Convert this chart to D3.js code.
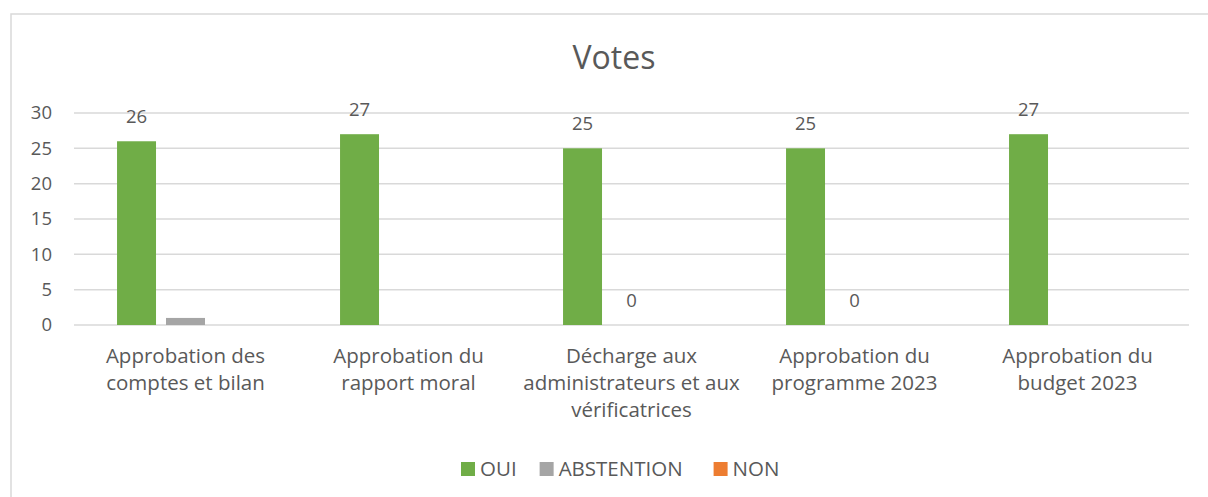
<!DOCTYPE html>
<html>
<head>
<meta charset="utf-8">
<style>
  body { margin: 0; background: #fff; }
  svg text { font-family: "Open Sans", sans-serif; fill: #595959; }
</style>
</head>
<body>
<script src="https://d3js.org/d3.v7.min.js"></script>
<script>
const categories = [
  ["Approbation des", "comptes et bilan"],
  ["Approbation du", "rapport moral"],
  ["Décharge aux", "administrateurs et aux", "vérificatrices"],
  ["Approbation du", "programme 2023"],
  ["Approbation du", "budget 2023"]
]
const seriesNames = ["OUI", "ABSTENTION", "NON"]
const oui = [26, 27, 25, 25, 27]
const abstention = [1, null, 0, 0, null]
const non = [null, null, null, null, null]
// which values carry a data label in the original
const ouiLabels = [true, true, true, true, true]
const abstentionLabels = [false, false, true, true, false]
const nonLabels = [false, false, false, false, false]
const yTicks = [0, 5, 10, 15, 20, 25, 30]
const colors = ["#70AD47", "#A5A5A5", "#ED7D31"]

const w = 1208
const h = 497
const plotLeft = 74, plotRight = 1189, plotTop = 113, plotBottom = 325

const svg = d3.select('body').append('svg')
  .attr('width', w)
  .attr('height', h)

// chart frame
svg.append('rect')
  .attr('x', 11).attr('y', 14)
  .attr('width', w + 20).attr('height', h + 20)
  .attr('fill', 'none')
  .attr('stroke', '#d9d9d9')
  .attr('stroke-width', 1.5)

svg.append('text')
  .attr('x', 614).attr('y', 69)
  .attr('text-anchor', 'middle')
  .style('font-size', '32px')
  .text('Votes')

const y = d3.scaleLinear().domain([0, 30]).range([plotBottom, plotTop])
const x0 = d3.scaleBand()
  .domain(d3.range(categories.length))
  .range([plotLeft, plotRight])
  .paddingInner(0.386).paddingOuter(0.193)
const x1 = d3.scaleBand()
  .domain(seriesNames)
  .range([0, x0.bandwidth()])
  .paddingInner(0.204)

// gridlines
svg.append('g').selectAll('line')
  .data(yTicks)
  .join('line')
  .attr('x1', plotLeft).attr('x2', plotRight)
  .attr('y1', d => y(d)).attr('y2', d => y(d))
  .attr('stroke', '#d9d9d9')
  .attr('stroke-width', 1.5)

const yAxis = svg.append('g')
  .attr('transform', 'translate(' + (plotLeft - 22) + ',0)')
  .call(d3.axisLeft(y).tickValues(yTicks).tickSize(0).tickPadding(0))
yAxis.select('.domain').remove()
yAxis.selectAll('text')
  .style('font-size', '18.5px')
  .style('font-family', '"Open Sans", sans-serif')
  .attr('fill', '#595959')

const values = [oui, abstention, non]
const labelFlags = [ouiLabels, abstentionLabels, nonLabels]
const rows = []
seriesNames.forEach((s, si) => {
  values[si].forEach((v, ci) => {
    rows.push({ s: s, si: si, ci: ci, v: v, label: labelFlags[si][ci] })
  })
})

svg.append('g').selectAll('rect')
  .data(rows.filter(d => d.v != null && d.v > 0))
  .join('rect')
  .attr('x', d => x0(d.ci) + x1(d.s))
  .attr('y', d => y(d.v))
  .attr('width', x1.bandwidth())
  .attr('height', d => y(0) - y(d.v))
  .attr('fill', d => colors[d.si])

svg.append('g').selectAll('text')
  .data(rows.filter(d => d.v != null && d.label))
  .join('text')
  .attr('x', d => x0(d.ci) + x1(d.s) + x1.bandwidth() / 2)
  .attr('y', d => y(d.v) - 18)
  .attr('text-anchor', 'middle')
  .style('font-size', '18.5px')
  .text(d => d.v)

// category labels
const cat = svg.append('g').selectAll('text')
  .data(categories)
  .join('text')
  .attr('x', (d, i) => x0(i) + x0.bandwidth() / 2)
  .attr('y', 363)
  .attr('text-anchor', 'middle')
  .style('font-size', '20.5px')
cat.selectAll('tspan')
  .data(d => d)
  .join('tspan')
  .attr('x', function () { return this.parentNode.getAttribute('x') })
  .attr('dy', (d, i) => i === 0 ? 0 : 27)
  .text(d => d)

// legend
const gaps = [0, 23, 31]
let lx = 461
seriesNames.forEach((s, i) => {
  lx += gaps[i]
  svg.append('rect')
    .attr('x', lx).attr('y', 462)
    .attr('width', 14).attr('height', 14)
    .attr('fill', colors[i])
  const t = svg.append('text')
    .attr('x', lx + 19).attr('y', 475.5)
    .style('font-size', '20.5px')
    .text(s)
  lx += 19 + t.node().getComputedTextLength()
})
</script>
</body>
</html>
